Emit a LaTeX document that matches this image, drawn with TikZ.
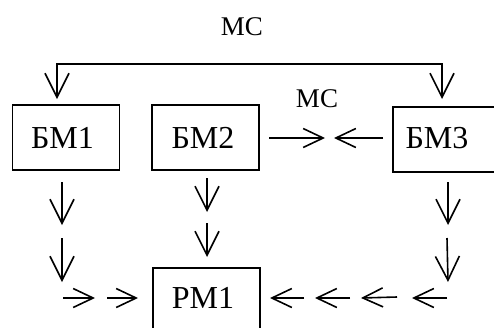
\documentclass[tikz,border=0pt]{standalone}
\usepackage{fontspec}
\setmainfont{Liberation Serif}
\usetikzlibrary{arrows.meta}
\begin{document}
\begin{tikzpicture}[x=1pt,y=-1pt,
  box/.style={draw,line width=1.8pt,minimum width=107pt,minimum height=65pt,inner sep=0pt},
  lbl/.style={font=\fontsize{32}{32}\selectfont,inner sep=0pt},
  mc/.style={font=\fontsize{27}{27}\selectfont,inner sep=0pt},
  arr/.style={line width=1.6pt,-{Straight Barb[length=24pt,width=24pt,line width=1.6pt]}},
  arrs/.style={line width=1.6pt,-{Straight Barb[length=20pt,width=19pt,line width=1.6pt]}}]
\useasboundingbox (0,0) rectangle (494,327);
\clip (0,0) rectangle (494,327);
% boxes
\node[box] (bm1) at (66,137.5) {};
\node[box] (bm2) at (205.5,137.5) {};
\node[box,anchor=north west] (bm3) at (392,106) {};
\node[box,anchor=north west,minimum height=80pt] (rm1) at (152,267) {};
\node[lbl] (t1) at (62.5,138) {БМ1};
\node[lbl] (t2) at (203,138) {БМ2};
\node[lbl] (t3) at (437,138) {БМ3};
\node[lbl] (t4) at (203,298) {РМ1};
\node[mc] (mc1) at (242,27) {МС};
\node[mc] (mc2) at (317,99) {МС};
% top bracket
\coordinate (a1) at (57,99);
\coordinate (a2) at (442,99);
\draw[arr] (442,64) -| (a1);
\draw[arr] (300,64) -| (a2);
% middle horizontal
\coordinate (m1) at (325,138);
\coordinate (m2) at (334,138);
\draw[arrs] (269,138) -- (m1);
\draw[arrs] (383,138) -- (m2);
% left column
\coordinate (l1s) at (62,182); \coordinate (l1e) at (62,225);
\coordinate (l2s) at (62,238); \coordinate (l2e) at (62,282);
\draw[arr] (l1s) -- (l1e);
\draw[arr] (l2s) -- (l2e);
\coordinate (h1s) at (63,298); \coordinate (h1e) at (95,298);
\coordinate (h2s) at (107,298); \coordinate (h2e) at (138,298);
\draw[arrs] (h1s) -- (h1e);
\draw[arrs] (h2s) -- (h2e);
% middle column
\coordinate (c1s) at (207,178); \coordinate (c1e) at (207,212);
\coordinate (c2s) at (207,223); \coordinate (c2e) at (207,257);
\draw[arr] (c1s) -- (c1e);
\draw[arr] (c2s) -- (c2e);
% right column
\coordinate (r1s) at (448,182); \coordinate (r1e) at (448,225);
\coordinate (r2s) at (447,238); \coordinate (r2e) at (448,282);
\draw[arr] (r1s) -- (r1e);
\draw[arr] (r2s) -- (r2e);
\coordinate (g1s) at (304,298); \coordinate (g1e) at (270,298);
\coordinate (g2s) at (350,298); \coordinate (g2e) at (315,298);
\coordinate (g3s) at (397,297); \coordinate (g3e) at (361,298);
\coordinate (g4s) at (447,298); \coordinate (g4e) at (412,298);
\draw[arrs] (g1s) -- (g1e);
\draw[arrs] (g2s) -- (g2e);
\draw[arrs] (g3s) -- (g3e);
\draw[arrs] (g4s) -- (g4e);
\end{tikzpicture}
\end{document}
